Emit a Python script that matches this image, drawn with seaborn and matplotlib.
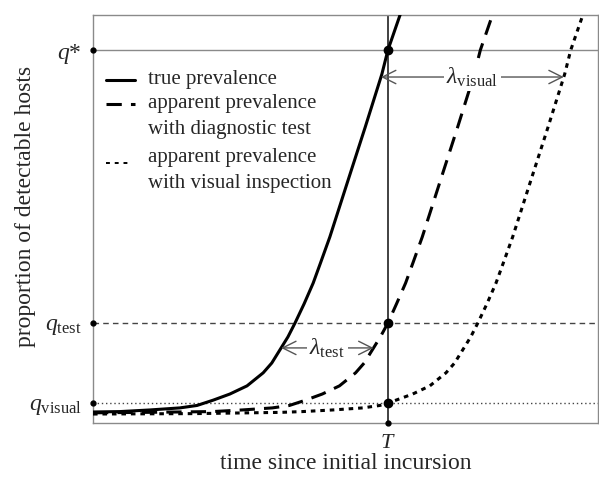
# schematic: true vs apparent prevalence over time
import numpy as np
import pandas as pd
import matplotlib
matplotlib.use("Agg")
import matplotlib.pyplot as plt
import seaborn as sns

# data (time in arbitrary units, 0-10)
true_t = [0, 0.535, 1.13, 1.72, 2.06, 2.38, 2.71, 3.05, 3.37, 3.54, 3.70, 3.86, 4.00, 4.18,
          4.36, 4.51, 4.69, 5.09, 5.39, 5.72, 5.84, 6.08, 6.18]
true_q = [0.027, 0.028, 0.032, 0.037, 0.043, 0.056, 0.071, 0.091, 0.123, 0.147, 0.179, 0.211,
          0.245, 0.292, 0.343, 0.394, 0.456, 0.610, 0.725, 0.855, 0.914, 1.0, 1.037]

test_t = [0, 1.0, 2.37, 2.96, 3.55, 3.89, 4.21, 4.54, 4.88, 5.20, 5.37, 5.53, 5.69, 5.84,
          6.01, 6.19, 6.34, 6.52, 6.92, 7.22, 7.55, 7.67, 7.91, 8.01]
test_q = [0.025, 0.026, 0.028, 0.032, 0.037, 0.043, 0.056, 0.071, 0.091, 0.123, 0.147, 0.179,
          0.211, 0.245, 0.292, 0.343, 0.394, 0.456, 0.610, 0.725, 0.855, 0.914, 1.0, 1.037]

visual_t = [0, 2.0, 3.70, 4.15, 4.75, 5.34, 5.68, 6.00, 6.33, 6.67, 6.99, 7.16, 7.32, 7.48,
            7.62, 7.80, 7.98, 8.13, 8.31, 8.71, 9.01, 9.34, 9.46, 9.70, 9.80]
visual_q = [0.022, 0.023, 0.026, 0.028, 0.032, 0.037, 0.043, 0.056, 0.071, 0.091, 0.123, 0.147,
            0.179, 0.211, 0.245, 0.292, 0.343, 0.394, 0.456, 0.610, 0.725, 0.855, 0.914, 1.0, 1.037]

T = 5.84
q_star = 0.914
q_test = 0.245
q_visual = 0.049
lam_test_y = 0.184
lam_visual_y = 0.848

q_levels = [q_visual, q_test, q_star]
q_labels = [r"$q_{\rm visual}$", r"$q_{\rm test}$", r"$q$*"]

sns.set_style("white")
plt.rcParams["font.family"] = ["Liberation Serif", "DejaVu Serif"]
plt.rcParams["mathtext.fontset"] = "custom"
plt.rcParams["mathtext.rm"] = "Liberation Serif"
plt.rcParams["mathtext.it"] = "Liberation Serif:italic"

fig = plt.figure(figsize=(5.99, 4.79), dpi=100)
ax = fig.add_axes([93 / 599, 56 / 479, 505 / 599, 408 / 479])

df = pd.concat([
    pd.DataFrame({"t": true_t, "q": true_q, "kind": "true"}),
    pd.DataFrame({"t": test_t, "q": test_q, "kind": "test"}),
    pd.DataFrame({"t": visual_t, "q": visual_q, "kind": "visual"}),
])

styles = {"true": "", "test": (5, 3), "visual": (1.5, 1.6)}
sns.lineplot(data=df, x="t", y="q", style="kind", dashes=styles, color="black",
             linewidth=2.2, estimator=None, sort=False, legend=False, ax=ax, zorder=3)

# reference lines
ax.axhline(q_star, color="#8a8a8a", lw=1.0, zorder=1)
ax.axhline(q_test, color="#444444", lw=1.0, ls=(0, (4, 3)), zorder=1)
ax.axhline(q_visual, color="#444444", lw=1.0, ls=(0, (1, 2)), zorder=1)
ax.axvline(T, color="#333333", lw=1.3, zorder=2)

ax.plot([T, T, T], q_levels, "o", color="black", ms=6, zorder=4)
ax.plot([0, 0, 0], q_levels, "o", color="black", ms=3.5, clip_on=False, zorder=5)
ax.plot([T], [0], "o", color="black", ms=3.5, clip_on=False, zorder=5)

# lag arrows: from true curve to the apparent curve at one height
for y, cx, cy, lab in [(lam_test_y, test_t, test_q, r"$\lambda_{\rm test}$"),
                       (lam_visual_y, visual_t, visual_q, r"$\lambda_{\rm visual}$")]:
    x0 = np.interp(y, true_q, true_t)
    x1 = np.interp(y, cy, cx)
    ax.annotate("", xy=(x1, y), xytext=(x0, y),
                arrowprops=dict(arrowstyle="<->", color="#555555", lw=1.0,
                                mutation_scale=24, shrinkA=0, shrinkB=0), zorder=5)
    ax.text((x0 + x1) / 2, y, lab, ha="center", va="center", fontsize=17,
            bbox=dict(boxstyle="square,pad=0.1", fc="white", ec="none"), zorder=6)

ax.set_xlim(0, 10)
ax.set_ylim(0, 1)
ax.set_yticks(q_levels)
ax.set_yticklabels(q_labels, fontsize=17)
ax.set_xticks([T])
ax.set_xticklabels([r"$T$"], fontsize=16)
ax.tick_params(axis="both", direction="out", length=5, width=1, color="#888888", pad=3)
ax.set_xlabel("time since initial incursion", fontsize=17, labelpad=0)
ax.set_ylabel("proportion of detectable hosts", fontsize=17)
ax.yaxis.set_label_coords(-0.113, 0.532)
for s in ax.spines.values():
    s.set_color("#8a8a8a")
    s.set_linewidth(1.0)

# legend drawn by hand so handles sit on the first line of each label
leg = [(0.841, 0.841, "", 2.2, 0.083, "true prevalence"),
       (0.782, 0.752, (5, 3), 2.2, 0.083, "apparent prevalence\nwith diagnostic test"),
       (0.637, 0.619, (2, 2.5), 1.4, 0.074, "apparent prevalence\nwith visual inspection")]
for hy, ty, dash, lw, xe, lab in leg:
    ls = "-" if dash == "" else (0, dash)
    ax.plot([0.026, xe], [hy, hy], color="black", lw=lw, ls=ls, transform=ax.transAxes)
    ax.text(0.108, ty, lab, ha="left", va="center", fontsize=15,
            linespacing=1.5, transform=ax.transAxes)

fig.savefig("out.png", dpi=100)
